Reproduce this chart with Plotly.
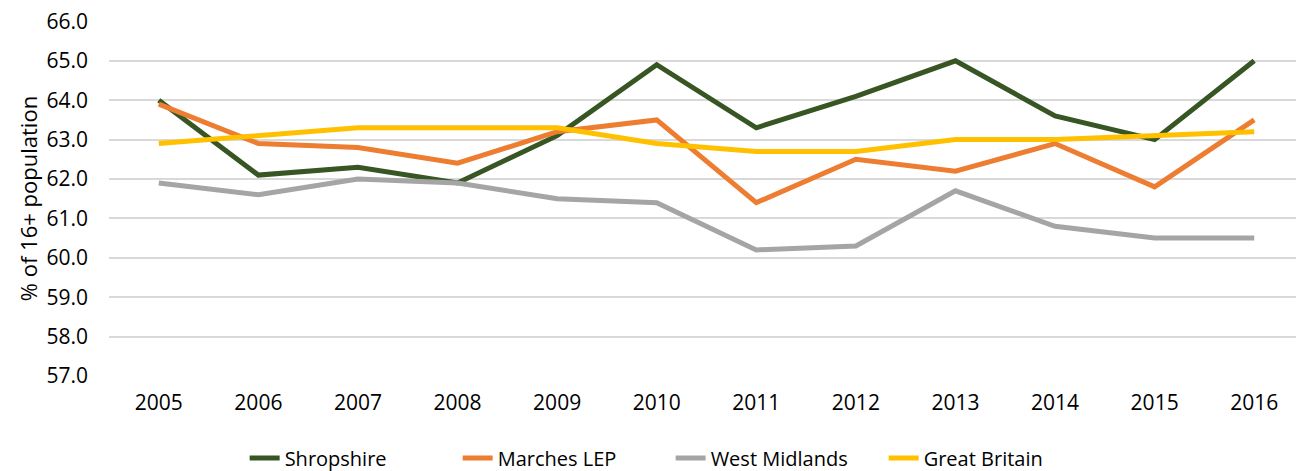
import plotly.graph_objects as go

years = [str(y) for y in range(2005, 2017)]
shropshire = [64.0, 62.1, 62.3, 61.9, 63.1, 64.9, 63.3, 64.1, 65.0, 63.6, 63.0, 65.0]
marches = [63.9, 62.9, 62.8, 62.4, 63.2, 63.5, 61.4, 62.5, 62.2, 62.9, 61.8, 63.5]
west_mid = [61.9, 61.6, 62.0, 61.9, 61.5, 61.4, 60.2, 60.3, 61.7, 60.8, 60.5, 60.5]
great_britain = [62.9, 63.1, 63.3, 63.3, 63.3, 62.9, 62.7, 62.7, 63.0, 63.0, 63.1, 63.2]
y_ticks = [57, 58, 59, 60, 61, 62, 63, 64, 65, 66]

series = [
    ("Shropshire", shropshire, "#375623"),
    ("Marches LEP", marches, "#ED7D31"),
    ("West Midlands", west_mid, "#A5A5A5"),
    ("Great Britain", great_britain, "#FFC000"),
]

FONT = "Open Sans, Liberation Sans, sans-serif"

fig = go.Figure()
for name, vals, col in series:
    fig.add_trace(go.Scatter(
        x=years, y=vals, name=name, mode="lines",
        line=dict(color=col, width=5),
    ))

fig.update_xaxes(
    type="category", range=[-0.5, 11.5], automargin=False,
    showgrid=False, zeroline=False, showline=False,
    tickfont=dict(size=21, color="#000"), ticks="", ticklabelstandoff=12,
)
fig.update_yaxes(
    range=[57, 66.01], tickvals=y_ticks,
    tickformat=".1f", automargin=False, ticklabeloverflow="allow",
    showgrid=True, gridcolor="#d9d9d9", gridwidth=1.5,
    zeroline=False, showline=False,
    tickfont=dict(size=21, color="#000"), ticks="", ticklabelstandoff=20,
    title=dict(text="% of 16+ population", font=dict(size=22, color="#000"), standoff=2),
)
# page body adds 8px margin; bottom 8px of the figure falls outside the window
fig.update_layout(
    width=1296, height=471,
    margin=dict(l=101, r=0, t=13, b=103),
    plot_bgcolor="white", paper_bgcolor="white",
    font=dict(family=FONT, color="#000"),
    showlegend=True,
    legend=dict(
        orientation="h", xanchor="center", x=0.47, yanchor="middle", y=-0.231,
        font=dict(size=20, color="#000"), itemwidth=30, tracegroupgap=0,
        entrywidth=168, entrywidthmode="pixels",
    ),
)
fig.write_html("out.html")
